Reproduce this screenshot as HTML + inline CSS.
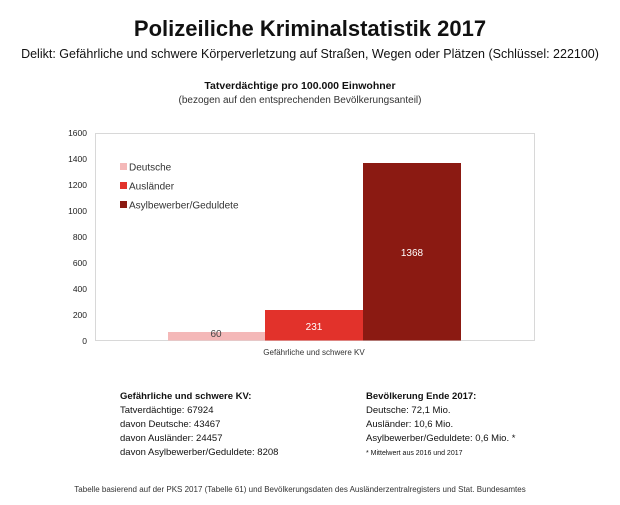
<!DOCTYPE html>
<html><head><meta charset="utf-8"><style>
body{margin:0;background:#fff;width:620px;height:505px;position:relative;overflow:hidden;font-family:"Liberation Sans","DejaVu Sans",sans-serif;color:#111}
.a{position:absolute;white-space:nowrap}
</style></head><body>
<div class="a" style="left:0;width:620px;top:16px;text-align:center;font-size:22px;font-weight:bold">Polizeiliche Kriminalstatistik 2017</div>
<div class="a" style="left:0;width:620px;top:47px;text-align:center;font-size:12.5px">Delikt: Gefährliche und schwere Körperverletzung auf Straßen, Wegen oder Plätzen (Schlüssel: 222100)</div>
<div class="a" style="left:0;width:600px;top:80px;text-align:center;font-size:10.5px;font-weight:bold">Tatverdächtige pro 100.000 Einwohner</div>
<div class="a" style="left:0;width:600px;top:95px;text-align:center;font-size:10px;color:#333">(bezogen auf den entsprechenden Bevölkerungsanteil)</div>
<svg class="a" style="left:0;top:0" width="620" height="505">
<rect x="95.5" y="133.5" width="439" height="207" fill="none" stroke="#d8d8d8"/>
<g font-size="8.5" fill="#222" text-anchor="end" font-family="Liberation Sans,sans-serif">
<text x="87" y="136">1600</text><text x="87" y="162">1400</text><text x="87" y="188">1200</text><text x="87" y="214">1000</text><text x="87" y="240">800</text><text x="87" y="266">600</text><text x="87" y="292">400</text><text x="87" y="318">200</text><text x="87" y="344">0</text>
</g>
<rect x="168" y="332" width="97" height="8.5" fill="#f4b8b8"/>
<rect x="265" y="310" width="98" height="30.5" fill="#e2322b"/>
<rect x="363" y="163" width="98" height="177.5" fill="#8b1a12"/>
<text x="216" y="337" font-size="10" text-anchor="middle" fill="#444">60</text>
<text x="314" y="330" font-size="10" text-anchor="middle" fill="#fff">231</text>
<text x="412" y="256" font-size="10" text-anchor="middle" fill="#fff">1368</text>
<rect x="120" y="163" width="7" height="7" fill="#f4b8b8"/><text x="129" y="170.5" font-size="10" fill="#333">Deutsche</text>
<rect x="120" y="182" width="7" height="7" fill="#e2322b"/><text x="129" y="189.5" font-size="10" fill="#333">Ausländer</text>
<rect x="120" y="201" width="7" height="7" fill="#8b1a12"/><text x="129" y="208.5" font-size="10" fill="#333">Asylbewerber/Geduldete</text>
<text x="314" y="355" font-size="8" text-anchor="middle" fill="#333">Gefährliche und schwere KV</text>
</svg>
<div class="a" style="left:120px;top:390px;font-size:9.5px;line-height:14px">
<b>Gefährliche und schwere KV:</b><br>Tatverdächtige: 67924<br>davon Deutsche: 43467<br>davon Ausländer: 24457<br>davon Asylbewerber/Geduldete: 8208</div>
<div class="a" style="left:366px;top:390px;font-size:9.5px;line-height:14px">
<b>Bevölkerung Ende 2017:</b><br>Deutsche: 72,1 Mio.<br>Ausländer: 10,6 Mio.<br>Asylbewerber/Geduldete: 0,6 Mio. *<br><span style="font-size:7px">* Mittelwert aus 2016 und 2017</span></div>
<div class="a" style="left:0;width:600px;top:485px;text-align:center;font-size:8px;color:#333">Tabelle basierend auf der PKS 2017 (Tabelle 61) und Bevölkerungsdaten des Ausländerzentralregisters und Stat. Bundesamtes</div>
</body></html>
